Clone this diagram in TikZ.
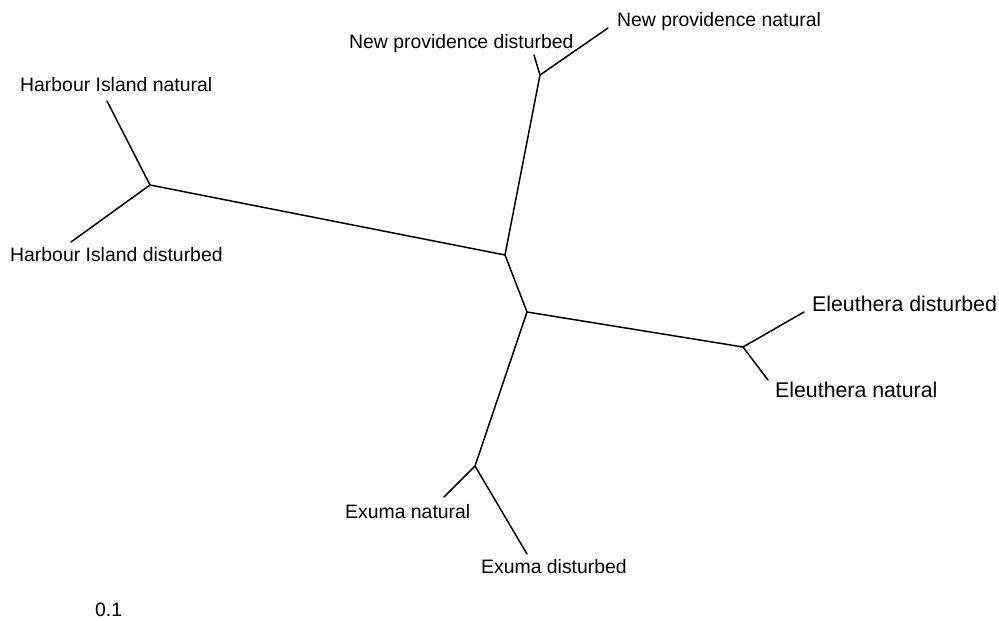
\documentclass[tikz,border=0pt]{standalone}
\usepackage{fontspec}
\setmainfont{Liberation Sans}
\begin{document}
\begin{tikzpicture}[x=1pt,y=-1pt,
  branch/.style={line width=1.5pt,line cap=round,line join=round},
  lab/.style={inner sep=0pt,anchor=base west,font=\fontsize{19.4}{22}\selectfont},
  biglab/.style={inner sep=0pt,anchor=base west,font=\fontsize{21.3}{25}\selectfont}]
\useasboundingbox (0,0) rectangle (999,621);
% internal nodes
\coordinate (A) at (505,255);
\coordinate (B) at (527,312);
\coordinate (NP) at (540,75);
\coordinate (HI) at (150,185);
\coordinate (EL) at (743,347);
\coordinate (EX) at (475,466);
% leaves
\coordinate (npn) at (608,28);
\coordinate (npd) at (534,55);
\coordinate (hin) at (107,101);
\coordinate (hid) at (71,242);
\coordinate (eld) at (804,312);
\coordinate (eln) at (768,380);
\coordinate (exn) at (444,497);
\coordinate (exd) at (527,554);
% branches
\draw[branch] (A) -- (B);
\draw[branch] (A) -- (NP);
\draw[branch] (A) -- (HI);
\draw[branch] (B) -- (EL);
\draw[branch] (B) -- (EX);
\draw[branch] (NP) -- (npn);
\draw[branch] (NP) -- (npd);
\draw[branch] (HI) -- (hin);
\draw[branch] (HI) -- (hid);
\draw[branch] (EL) -- (eld);
\draw[branch] (EL) -- (eln);
\draw[branch] (EX) -- (exn);
\draw[branch] (EX) -- (exd);
% labels
\node[lab] (Lnpn) at (617,27) {New providence natural};
\node[lab] (Lnpd) at (349,48) {New providence disturbed};
\node[lab] (Lhin) at (20,91) {Harbour Island natural};
\node[lab] (Lhid) at (10,261) {Harbour Island disturbed};
\node[biglab] (Leld) at (812,311) {Eleuthera disturbed};
\node[biglab] (Leln) at (775,397) {Eleuthera natural};
\node[lab] (Lexn) at (345,518) {Exuma natural};
\node[lab] (Lexd) at (481,573) {Exuma disturbed};
\node[lab] (Lscale) at (95,616) {0.1};
\end{tikzpicture}
\end{document}
